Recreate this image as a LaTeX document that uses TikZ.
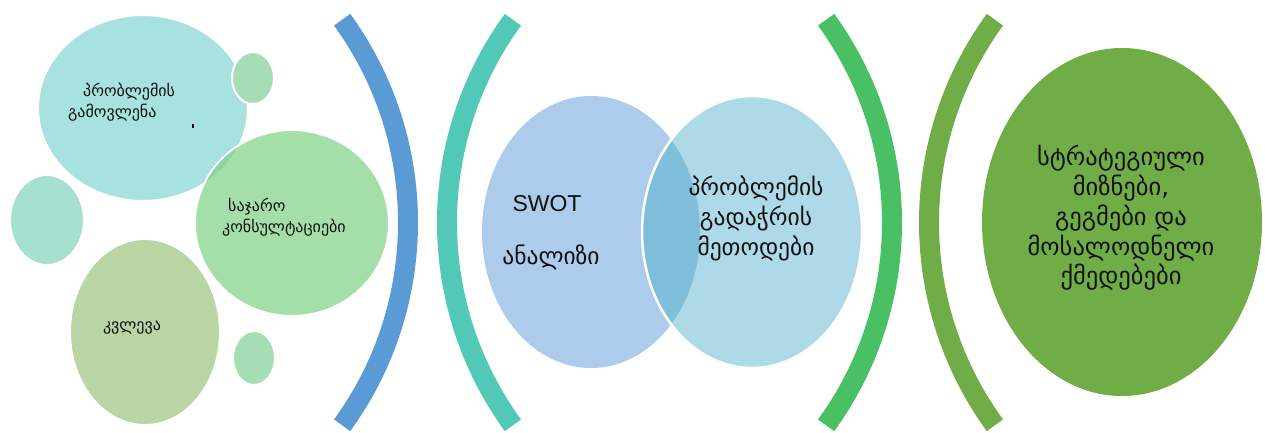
\documentclass[tikz,border=0pt]{standalone}
\usepackage{fontspec}
\usetikzlibrary{shapes.geometric}
\newfontfamily\geo{DejaVu Sans}
\newfontfamily\arialf{Liberation Sans}
\definecolor{cyanA}{HTML}{A8E2E0}
\definecolor{smallG}{HTML}{A7DDB4}
\definecolor{leftC}{HTML}{A6E1CF}
\definecolor{midG}{HTML}{A4DEA8}
\definecolor{midOv}{HTML}{8CD3A0}
\definecolor{botG}{HTML}{B8D5A3}
\definecolor{venL}{HTML}{ADCBEA}
\definecolor{venR}{HTML}{ADD9E8}
\definecolor{venO}{HTML}{80BFDC}
\definecolor{arcBlue}{HTML}{5B9BD5}
\definecolor{arcTeal}{HTML}{52C9B6}
\definecolor{arcGreen}{HTML}{4AC064}
\definecolor{arcDark}{HTML}{70AD47}
\definecolor{txt}{HTML}{111111}
\begin{document}
\begin{tikzpicture}[x=1pt,y=-1pt,
  blob/.style={ellipse, draw=white, line width=2pt, inner sep=0pt},
  band/.style={line width=20pt, line cap=butt},
  lbl/.style={text=txt, inner sep=0pt, font=\geo\fontsize{16}{21}\selectfont},
  vlbl/.style={text=txt, inner sep=0pt, align=center, font=\geo\fontsize{23.5}{30}\selectfont},
]
\useasboundingbox (0,0) rectangle (1265,432);
\fill[white] (0,0) rectangle (1265,432);

% brackets
\draw[band, arcBlue] (63,222.5) ++(-36:345pt) arc[start angle=-36, end angle=36, radius=345pt];
\draw[band, arcTeal] (792,222.5) ++(144:345pt) arc[start angle=144, end angle=216, radius=345pt];
\draw[band, arcGreen] (547,222.5) ++(-36:345pt) arc[start angle=-36, end angle=36, radius=345pt];
\draw[band, arcDark] (1274,222.5) ++(144:345pt) arc[start angle=144, end angle=216, radius=345pt];

% left cluster
\node[blob, fill=cyanA, minimum width=210pt, minimum height=186pt] (e1) at (143,108) {};
\node[blob, fill=leftC, minimum width=74pt, minimum height=90pt] (lc) at (47,220) {};
\node[blob, fill=botG, minimum width=150pt, minimum height=186pt] (be) at (145,332) {};
\node[blob, fill=midG, minimum width=194pt, minimum height=186pt] (mc) at (292,223) {};
\begin{scope}
  \clip (143,108) ellipse [x radius=104pt, y radius=92pt];
  \fill[midOv] (292,223) ellipse [x radius=96pt, y radius=92pt];
\end{scope}
\node[blob, fill=smallG, minimum width=42pt, minimum height=52pt] (s1) at (253,78) {};
\node[blob, fill=smallG, minimum width=42pt, minimum height=54pt] (s2) at (254,358) {};
\draw[txt, line width=1.2pt] (193,124) -- (193,128);

\node[lbl, anchor=west, align=left] (t1) at (68,102) {\hspace*{15pt}პრობლემის\\გამოვლენა};
\node[lbl, anchor=west, align=left] (t2) at (222,217) {\hspace*{6pt}საჯარო\\კონსულტაციები};
\node[lbl] (t3) at (132,328) {კვლევა};

% venn
\node[ellipse, fill=venL, inner sep=0pt, minimum width=218pt, minimum height=272pt] (vl) at (591,232) {};
\node[ellipse, fill=venR, inner sep=0pt, minimum width=220pt, minimum height=272pt] (vr) at (752,232) {};
\begin{scope}
  \clip (591,232) ellipse [x radius=109pt, y radius=136pt];
  \fill[venO] (752,232) ellipse [x radius=110pt, y radius=136pt];
\end{scope}
\draw[white, line width=2.5pt] (752,232) ellipse [x radius=110pt, y radius=136pt];

\node[text=txt, inner sep=0pt, font=\arialf\fontsize{23}{28}\selectfont] (swot) at (547,204) {SWOT};
\node[vlbl] (an) at (551,257) {ანალიზი};
\node[vlbl] (pm) at (756,218) {პრობლემის\\გადაჭრის\\მეთოდები};

% final
\node[ellipse, fill=arcDark, inner sep=0pt, minimum width=280pt, minimum height=348pt] (fe) at (1122,222) {};
\node[vlbl, font=\geo\fontsize{24.5}{29.8}\selectfont] (ft) at (1121,218) {სტრატეგიული\\მიზნები,\\გეგმები და\\მოსალოდნელი\\ქმედებები};
\end{tikzpicture}
\end{document}
